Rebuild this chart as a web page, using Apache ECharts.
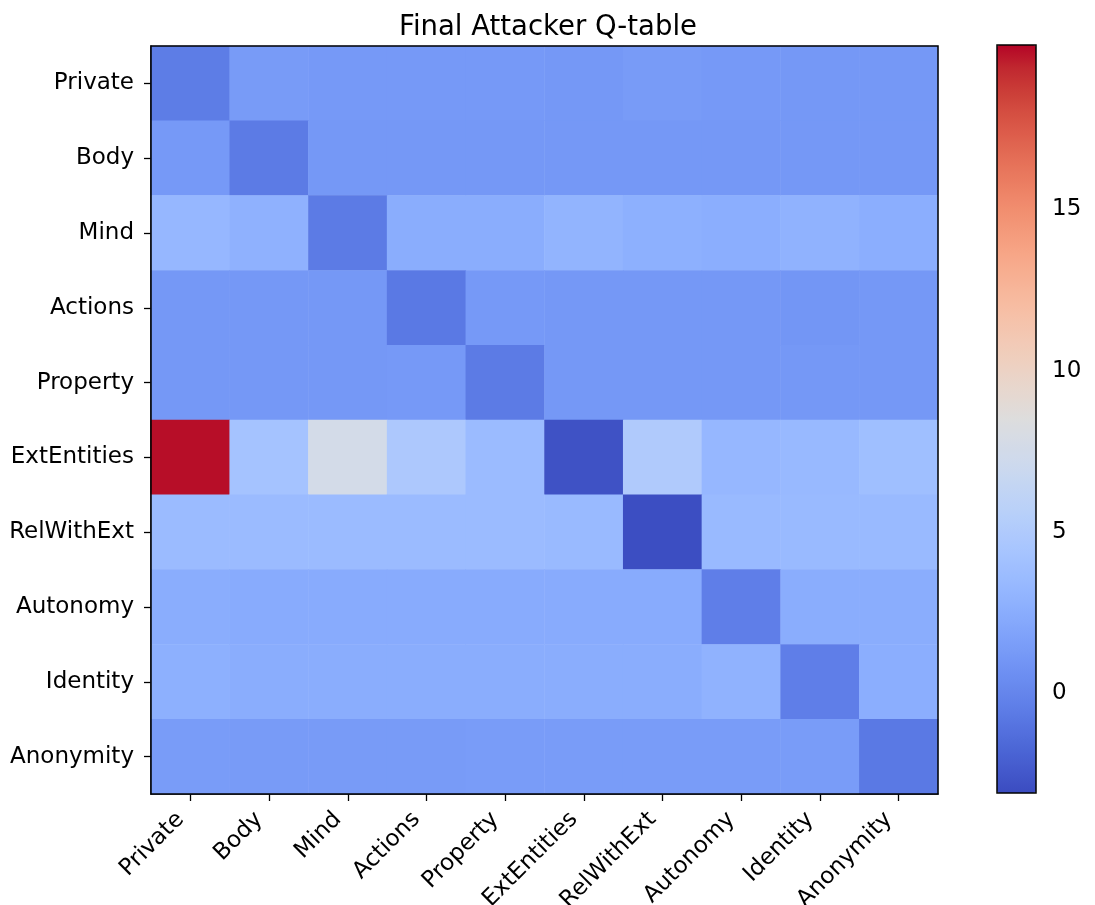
<!DOCTYPE html>
<html>
<head>
<meta charset="utf-8">
<script src="https://cdn.jsdelivr.net/npm/echarts@6/dist/echarts.min.js"></script>
<style>
html,body{margin:0;padding:0;background:#fff;}
#chart{width:1095px;height:905px;}
</style>
</head>
<body>
<div id="chart"></div>
<script>
const categories = ["Private","Body","Mind","Actions","Property","ExtEntities","RelWithExt","Autonomy","Identity","Anonymity"];
const rowPrivate     = [-0.5, 1.3, 1.2, 1.2, 1.2, 1.1, 1.3, 1.2, 1.1, 1.1];
const rowBody        = [1.2, -0.6, 1.1, 1.1, 1.1, 1.1, 1.1, 1.1, 1.1, 1.1];
const rowMind        = [3.3, 2.8, -0.6, 2.5, 2.5, 3.0, 2.7, 2.6, 2.9, 2.6];
const rowActions     = [1.1, 1.1, 1.1, -0.7, 1.2, 1.1, 1.1, 1.1, 1.0, 1.1];
const rowProperty    = [1.1, 1.1, 1.1, 1.2, -0.6, 1.1, 1.1, 1.1, 1.1, 1.1];
const rowExtEntities = [19.9, 4.3, 7.6, 4.8, 3.6, -2.8, 5.0, 3.3, 3.4, 3.9];
const rowRelWithExt  = [3.6, 3.6, 3.6, 3.6, 3.6, 3.5, -3.0, 3.5, 3.5, 3.5];
const rowAutonomy    = [2.5, 2.4, 2.4, 2.4, 2.4, 2.4, 2.4, -0.4, 2.5, 2.5];
const rowIdentity    = [2.7, 2.5, 2.5, 2.5, 2.5, 2.5, 2.5, 2.9, -0.4, 2.6];
const rowAnonymity   = [1.4, 1.3, 1.3, 1.3, 1.4, 1.4, 1.4, 1.4, 1.4, -0.7];
const colorbarTicks = [0, 5, 10, 15];
const colorMin = -3.1, colorMax = 20.1;

const rows = [rowPrivate,rowBody,rowMind,rowActions,rowProperty,rowExtEntities,rowRelWithExt,rowAutonomy,rowIdentity,rowAnonymity];
const data = [];
rows.forEach((r, yi) => r.forEach((v, xi) => data.push([xi, yi, v])));

const coolwarm = [
 [59,76,192],[68,90,204],[77,104,215],[87,117,225],[98,130,234],[108,142,241],[119,154,247],[130,165,251],
 [141,176,254],[152,185,255],[163,194,255],[174,201,253],[184,208,249],[194,213,244],[204,217,238],[213,219,230],
 [221,221,221],[229,216,209],[236,211,197],[241,204,185],[245,196,173],[247,187,160],[247,177,148],[247,166,135],
 [244,154,123],[241,141,111],[236,127,99],[229,112,88],[222,96,77],[213,80,66],[203,62,56],[192,40,47],[180,4,38]
].map(c => `rgb(${c[0]},${c[1]},${c[2]})`);

const font = 'DejaVu Sans';
const chart = echarts.init(document.getElementById('chart'), null, {renderer:'canvas'});
chart.setOption({
  animation: false,
  backgroundColor: '#fff',
  title: {
    text: 'Final Attacker Q-table',
    left: 543, top: 9, textAlign: 'center',
    textStyle: {fontFamily: font, fontSize: 27.5, fontWeight: 'normal', color: '#000'}
  },
  grid: [
    {left: 151, top: 46, width: 787, height: 748, outerBoundsMode: 'none', containLabel: false, show: true, borderColor: '#000', borderWidth: 1.5, backgroundColor: 'transparent', z: 10},
    {left: 997, top: 45, width: 39, height: 748, outerBoundsMode: 'none', containLabel: false, show: true, borderColor: '#000', borderWidth: 1.5, backgroundColor: 'transparent', z: 10}
  ],
  xAxis: [
    {type: 'category', data: categories, gridIndex: 0, position: 'bottom',
     axisLine: {show: true, lineStyle: {color: '#000', width: 1.5}},
     axisTick: {show: true, alignWithLabel: true, length: 7, lineStyle: {color: '#000', width: 1.3}},
     axisLabel: {rotate: 45, fontFamily: font, fontSize: 23, color: '#000', margin: 12, padding: [0, 14, 0, 0], interval: 0},
     splitLine: {show: false}},
    {type: 'value', gridIndex: 1, show: false, min: 0, max: 1}
  ],
  yAxis: [
    {type: 'category', data: categories, gridIndex: 0, inverse: true,
     axisLine: {show: true, lineStyle: {color: '#000', width: 1.5}},
     axisTick: {show: true, alignWithLabel: true, length: 7, lineStyle: {color: '#000', width: 1.3}},
     axisLabel: {fontFamily: font, fontSize: 23, color: '#000', margin: 17, interval: 0},
     splitLine: {show: false}},
    {type: 'value', gridIndex: 1, position: 'right', min: colorMin, max: colorMax,
     axisLine: {show: false},
     axisTick: {show: true, length: 7, lineStyle: {color: '#000', width: 1.3}, customValues: colorbarTicks},
     axisLabel: {fontFamily: font, fontSize: 23, color: '#000', margin: 16, customValues: colorbarTicks},
     splitLine: {show: false}}
  ],
  visualMap: {
    type: 'continuous', min: colorMin, max: colorMax, seriesIndex: 0,
    calculable: false, show: true, orient: 'vertical',
    left: 997, top: 45, itemWidth: 39, itemHeight: 748, padding: 0,
    text: null, showLabel: false,
    inRange: {color: coolwarm}
  },
  series: [{
    type: 'heatmap', xAxisIndex: 0, yAxisIndex: 0, data: data,
    itemStyle: {borderWidth: 0},
    emphasis: {disabled: true}
  }]
});
</script>
</body>
</html>
